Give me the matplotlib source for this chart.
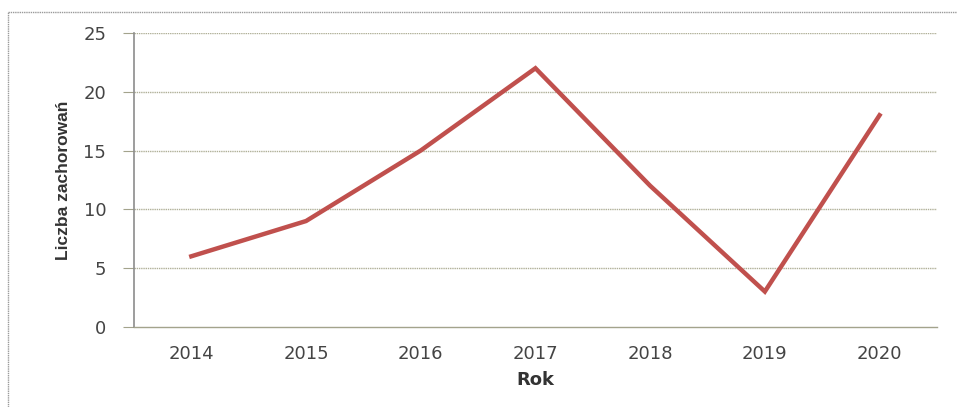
import numpy as np
import matplotlib.pyplot as plt
from matplotlib.lines import Line2D

years = ["2014", "2015", "2016", "2017", "2018", "2019", "2020"]
cases = [6, 9, 15, 22, 12, 3, 18]
y_ticks = [0, 5, 10, 15, 20, 25]

fig = plt.figure(figsize=(9.57, 4.07), dpi=100)
ax = fig.add_axes([0.140, 0.197, 0.839, 0.722])

x = np.arange(len(years))
ax.plot(x, cases, color="#c0504d", lw=3.2, solid_joinstyle="miter")

ax.set_xlim(-0.5, len(years) - 0.5)
ax.set_ylim(0, 25)
ax.set_yticks(y_ticks)
ax.set_xticks(x)
ax.set_xticklabels(years)

for t in y_ticks[1:]:
    ax.axhline(t, color="#b0b098", lw=1.0, ls=(0, (1, 0.6)), zorder=0)

for s in ["top", "right"]:
    ax.spines[s].set_visible(False)
ax.spines["left"].set_color("#8c8c8c")
ax.spines["bottom"].set_color("#a3a38c")
ax.spines["left"].set_linewidth(1.2)
ax.spines["bottom"].set_linewidth(1.0)

ax.tick_params(axis="y", length=8, color="#a3a38c", labelsize=13, labelcolor="#444444", pad=12)
ax.tick_params(axis="x", length=0, labelsize=13, labelcolor="#444444", pad=13)

ax.set_xlabel("Rok", fontsize=13, fontweight="bold", color="#333333", labelpad=6)
ax.set_ylabel("Liczba zachorowań", fontsize=12.5, fontweight="bold", color="#333333",
              family=["Liberation Sans", "DejaVu Sans"], labelpad=9)

# outer frame
fig.add_artist(Line2D([8 / 957, 8 / 957], [0, 1 - 12 / 407], transform=fig.transFigure,
                      color="#9a9a9a", lw=1.0, ls=(0, (1, 0.6))))
fig.add_artist(Line2D([8 / 957, 1], [1 - 12 / 407, 1 - 12 / 407], transform=fig.transFigure,
                      color="#9a9a9a", lw=1.0, ls=(0, (1, 0.6))))

fig.savefig("out.png", dpi=100)
